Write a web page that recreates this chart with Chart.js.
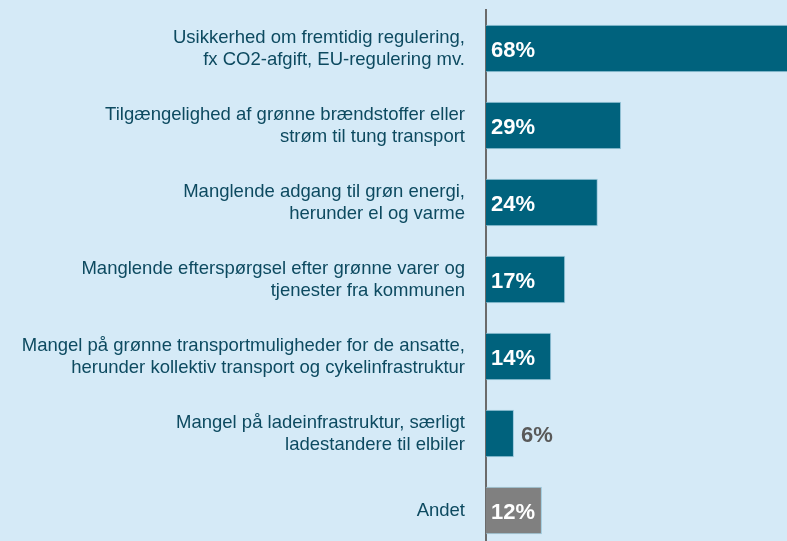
<!DOCTYPE html>
<html>
<head>
<meta charset="utf-8">
<script src="https://cdn.jsdelivr.net/npm/chart.js@4/dist/chart.umd.min.js"></script>
<style>
  html, body { margin: 0; padding: 0; background: #d5eaf7; overflow: hidden; }
  #wrap { width: 787px; height: 549px; position: relative; }
</style>
</head>
<body>
<div id="wrap"><canvas id="barChart"></canvas></div>
<script>
const categories = [
  ["Usikkerhed om fremtidig regulering,", "fx CO2-afgift, EU-regulering mv."],
  ["Tilgængelighed af grønne brændstoffer eller", "strøm til tung transport"],
  ["Manglende adgang til grøn energi,", "herunder el og varme"],
  ["Manglende efterspørgsel efter grønne varer og", "tjenester fra kommunen"],
  ["Mangel på grønne transportmuligheder for de ansatte,", "herunder kollektiv transport og cykelinfrastruktur"],
  ["Mangel på ladeinfrastruktur, særligt", "ladestandere til elbiler"],
  ["Andet"]
];
const shares = [68, 29, 24, 17, 14, 6, 12];
const barColors = ["#00627d", "#00627d", "#00627d", "#00627d", "#00627d", "#00627d", "#808080"];

// value labels: white inside the bar, grey next to it when the bar is too short
const valueLabels = {
  id: "valueLabels",
  afterDatasetsDraw(chart) {
    const ctx = chart.ctx;
    const meta = chart.getDatasetMeta(0);
    ctx.save();
    ctx.font = "bold 22px 'Liberation Sans', Arial, sans-serif";
    ctx.textBaseline = "middle";
    ctx.textAlign = "left";
    meta.data.forEach((bar, i) => {
      const text = shares[i] + "%";
      const w = ctx.measureText(text).width;
      if (bar.x - bar.base > w + 8) {
        ctx.fillStyle = "#ffffff";
        ctx.fillText(text, bar.base + 5, bar.y + 2);
      } else {
        ctx.fillStyle = "#595959";
        ctx.fillText(text, bar.x + 7, bar.y + 2);
      }
    });
    ctx.restore();
  }
};

new Chart(document.getElementById("barChart"), {
  type: "bar",
  data: {
    labels: categories,
    datasets: [{
      data: shares,
      backgroundColor: barColors,
      borderColor: "#9cc9dc",
      borderWidth: 1,
      borderSkipped: "left",
      barPercentage: 0.62,
      categoryPercentage: 1
    }]
  },
  options: {
    indexAxis: "y",
    responsive: true,
    maintainAspectRatio: false,
    animation: false,
    layout: { padding: { top: 10, right: 0, bottom: 0, left: 0 } },
    plugins: { legend: { display: false }, tooltip: { enabled: false } },
    scales: {
      x: { min: 0, max: 64.6, display: false },
      y: {
        grid: { display: false, drawTicks: false },
        border: { display: true, color: "#6b6b6b", width: 2 },
        afterFit: (scale) => {
          scale.width = 486;
          scale.paddingTop = 0;
          scale.paddingBottom = 0;
        },
        ticks: {
          color: "#0d4a60",
          padding: 21,
          font: { family: "'Liberation Sans', Arial, sans-serif", size: 18.5, lineHeight: 1.19 }
        }
      }
    }
  },
  plugins: [valueLabels]
});
</script>
</body>
</html>
